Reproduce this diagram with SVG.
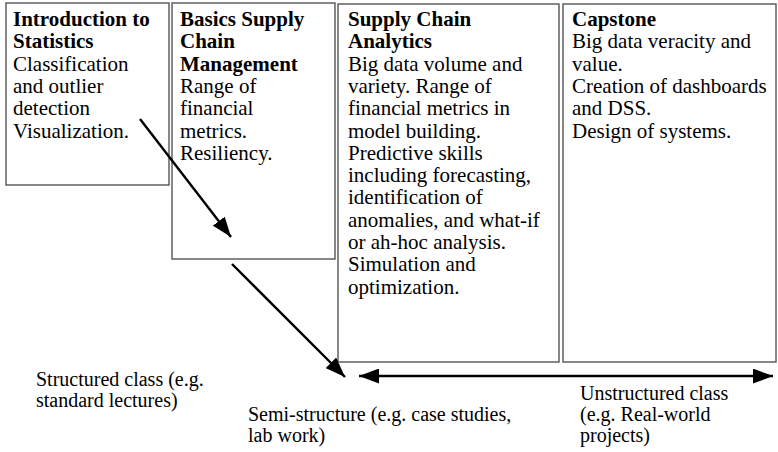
<svg xmlns="http://www.w3.org/2000/svg" width="778" height="452" viewBox="0 0 778 452">
<style>
.box{fill:#fff;stroke:#555;stroke-width:1.4}
text{font-family:"Liberation Serif","Times New Roman",serif;font-size:21px;fill:#000}
.b{font-weight:bold}
.lbl{font-size:20px}
.arr{stroke:#000;stroke-width:2.4;fill:none}
</style>
<defs>
<marker id="ah" viewBox="0 0 20 15" refX="20" refY="7.5" markerWidth="20" markerHeight="15" markerUnits="userSpaceOnUse" orient="auto-start-reverse">
<path d="M0,0 L20,7.5 L0,15 Z" fill="#000"/>
</marker>
</defs>
<g id="node-intro">
<rect class="box" x="6" y="3" width="163" height="182"/>
<text x="13" y="26"><tspan class="b">Introduction to</tspan><tspan class="b" x="13" dy="22.3">Statistics</tspan><tspan x="13" dy="22.3">Classification</tspan><tspan x="13" dy="22.3">and outlier</tspan><tspan x="13" dy="22.3">detection</tspan><tspan x="13" dy="22.3">Visualization.</tspan></text>
</g>
<g id="node-basics">
<rect class="box" x="172" y="3" width="163" height="256"/>
<text x="180" y="26"><tspan class="b">Basics Supply</tspan><tspan class="b" x="180" dy="22.3">Chain</tspan><tspan class="b" x="180" dy="22.3">Management</tspan><tspan x="180" dy="22.3">Range of</tspan><tspan x="180" dy="22.3">financial</tspan><tspan x="180" dy="22.3">metrics.</tspan><tspan x="180" dy="22.3">Resiliency.</tspan></text>
</g>
<g id="node-analytics">
<rect class="box" x="338" y="4" width="221" height="358"/>
<text x="348" y="26"><tspan class="b">Supply Chain</tspan><tspan class="b" x="348" dy="22.3">Analytics</tspan><tspan x="348" dy="22.3">Big data volume and</tspan><tspan x="348" dy="22.3">variety. Range of</tspan><tspan x="348" dy="22.3">financial metrics in</tspan><tspan x="348" dy="22.3">model building.</tspan><tspan x="348" dy="22.3">Predictive skills</tspan><tspan x="348" dy="22.3">including forecasting,</tspan><tspan x="348" dy="22.3">identification of</tspan><tspan x="348" dy="22.3">anomalies, and what-if</tspan><tspan x="348" dy="22.3">or ah-hoc analysis.</tspan><tspan x="348" dy="22.3">Simulation and</tspan><tspan x="348" dy="22.3">optimization.</tspan></text>
</g>
<g id="node-capstone">
<rect class="box" x="563" y="4" width="213" height="358"/>
<text x="572" y="26"><tspan class="b">Capstone</tspan><tspan x="572" dy="22.3">Big data veracity and</tspan><tspan x="572" dy="22.3">value.</tspan><tspan x="572" dy="22.3">Creation of dashboards</tspan><tspan x="572" dy="22.3">and DSS.</tspan><tspan x="572" dy="22.3">Design of systems.</tspan></text>
</g>
<g id="connectors">
<line class="arr" x1="140" y1="119" x2="231" y2="237" marker-end="url(#ah)"/>
<line class="arr" x1="232" y1="264" x2="345" y2="377" marker-end="url(#ah)"/>
<line class="arr" x1="359" y1="376" x2="773" y2="376" marker-start="url(#ah)" marker-end="url(#ah)"/>
</g>
<g id="labels">
<text class="lbl" x="36" y="386">Structured class (e.g.</text>
<text class="lbl" x="36" y="407">standard lectures)</text>
<text class="lbl" x="248" y="421">Semi-structure (e.g. case studies,</text>
<text class="lbl" x="248" y="442">lab work)</text>
<text class="lbl" x="580" y="400">Unstructured class</text>
<text class="lbl" x="580" y="421">(e.g. Real-world</text>
<text class="lbl" x="580" y="442">projects)</text>
</g>
</svg>
